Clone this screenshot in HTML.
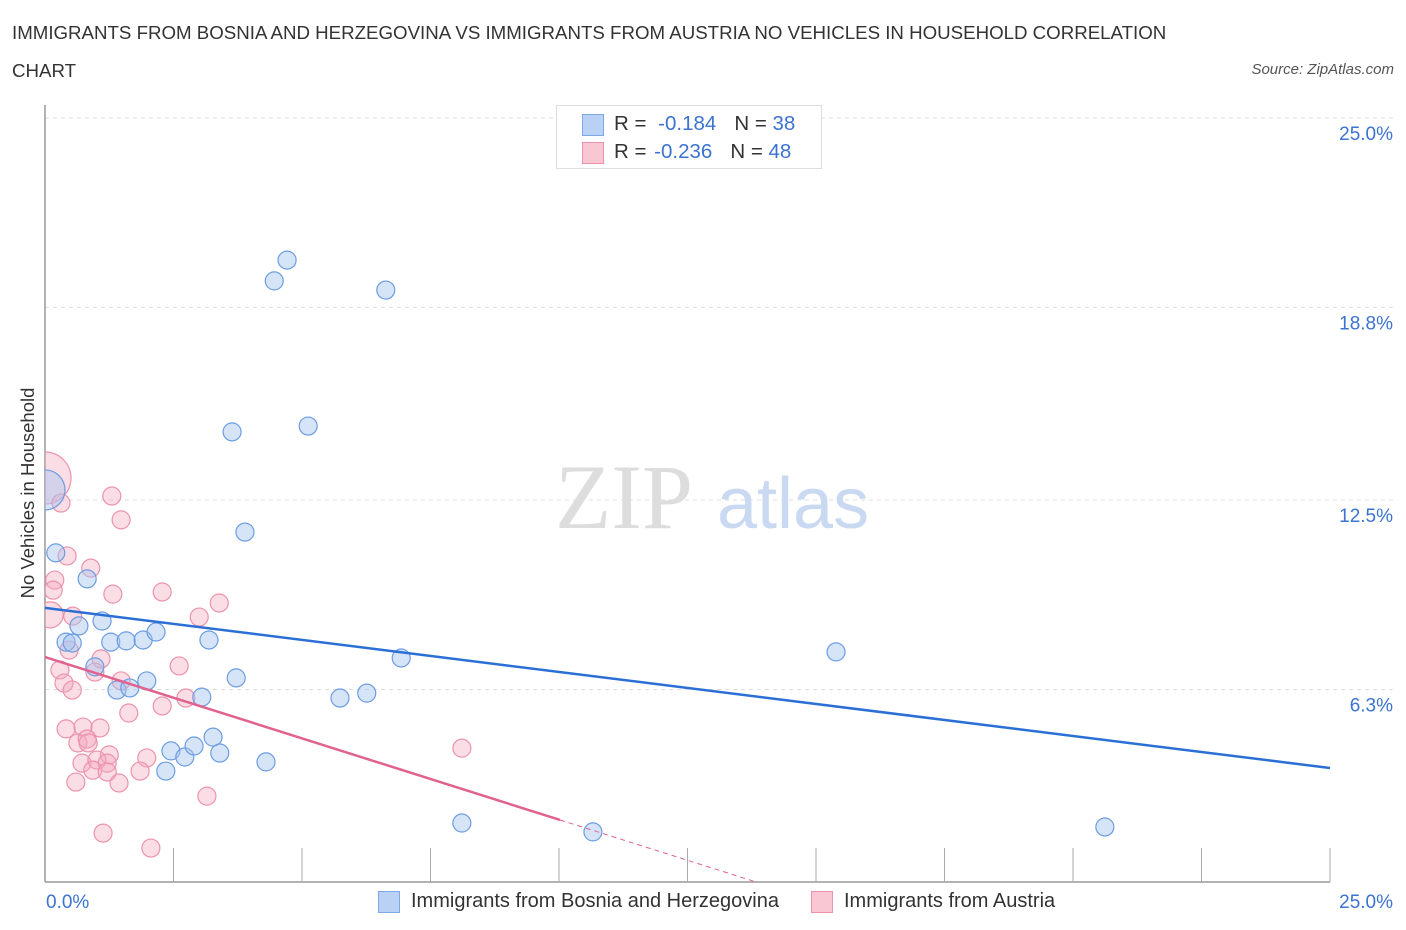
<!DOCTYPE html>
<html><head><meta charset="utf-8">
<style>
body{margin:0;background:#fff;font-family:"Liberation Sans",sans-serif;}
#wrap{position:relative;width:1406px;height:930px;overflow:hidden;}
.t{position:absolute;white-space:nowrap;}
</style></head><body>
<div id="wrap">
<div class="t" style="left:12px;top:14px;font-size:18.7px;color:#333;line-height:38px;">IMMIGRANTS FROM BOSNIA AND HERZEGOVINA VS IMMIGRANTS FROM AUSTRIA NO VEHICLES IN HOUSEHOLD CORRELATION<br>CHART</div>
<div class="t" style="right:12px;top:61px;font-size:15px;color:#555;font-style:italic;">Source: ZipAtlas.com</div>
<svg id="plot" width="1406" height="930" style="position:absolute;left:0;top:0"><defs><clipPath id="clp"><rect x="45" y="100" width="1360" height="782"/></clipPath></defs></svg>
</div>
<script>
const yTicks=[25.0,18.8,12.5,6.3];
const yTickLabels=["25.0%","18.8%","12.5%","6.3%"];
const xTickLabels=["0.0%","25.0%"];
const blueX=[4.71,4.46,6.63,3.64,5.12,3.89,0.21,0.82,1.11,0.66,0.41,0.53,1.28,1.58,1.91,2.16,3.19,0.97,1.40,1.65,1.98,3.05,3.72,5.74,6.26,6.93,15.39,2.45,2.72,2.90,3.27,3.40,4.30,2.35,8.11,10.66,20.62,0.0];
const blueY=[20.35,19.67,19.37,14.73,14.92,11.45,10.77,9.92,8.54,8.38,7.85,7.82,7.85,7.89,7.92,8.18,7.92,7.04,6.28,6.35,6.58,6.05,6.68,6.02,6.18,7.33,7.53,4.29,4.09,4.45,4.74,4.22,3.93,3.63,1.93,1.64,1.80,12.83];
const blueR=[9,9,9,9,9,9,9,9,9,9,9,9,9,9,9,9,9,9,9,9,9,9,9,9,9,9,9,9,9,9,9,9,9,9,9,9,9,20];
const pinkX=[0,1.30,0.31,1.48,0.43,0.89,0.19,0.16,1.32,2.28,3.39,0.10,0.54,3.00,0.47,1.09,0.29,0.97,2.61,1.48,0.37,0.53,2.74,2.28,1.63,0.41,0.74,1.07,0.64,0.82,0.84,1.98,1.25,0.72,1.01,1.21,0.93,1.85,0.60,1.44,3.15,1.13,2.06,8.11,1.21];
const pinkY=[13.22,12.63,12.40,11.85,10.67,10.27,9.88,9.55,9.42,9.49,9.13,8.74,8.70,8.67,7.59,7.30,6.94,6.87,7.07,6.58,6.51,6.28,6.02,5.76,5.53,5.01,5.07,5.04,4.55,4.68,4.55,4.06,4.16,3.89,3.99,3.89,3.66,3.63,3.27,3.24,2.81,1.60,1.11,4.38,3.60];
const pinkR=[26,9,9,9,9,9,9,9,9,9,9,13,9,9,9,9,9,9,9,9,9,9,9,9,9,9,9,9,9,9,9,9,9,9,9,9,9,9,9,9,9,9,9,9,9];
const blueTrend=[8.97,3.73];
const pinkTrend=[7.36,0];
const pinkSolidEnd=10.02;

const X=v=>45+v*51.4, Y=v=>882-v*30.56;
const svg=document.getElementById('plot'), NS='http://www.w3.org/2000/svg';
function mk(tag,attrs,parent){const e=document.createElementNS(NS,tag);for(const k in attrs)e.setAttribute(k,attrs[k]);(parent||svg).appendChild(e);return e;}
yTicks.forEach((v,i)=>{
  const g=mk('line',{x1:45,x2:1395,y1:Y(v),y2:Y(v),stroke:'#ddd','stroke-dasharray':'4,4'});
  
  
  const t=mk('text',{x:1393,y:Y(v)+22,'text-anchor':'end','font-size':19,fill:'#3b73d0','font-family':'Liberation Sans'});
  t.textContent=yTickLabels[i];
  
  
});
const ax=mk('line',{x1:45,x2:45,y1:105,y2:882,stroke:'#999','stroke-width':1.5});


const bx=mk('line',{x1:45,x2:1330,y1:882,y2:882,stroke:'#999','stroke-width':1.5});


for(let i=1;i<=10;i++){const tk=mk('line',{x1:X(i*2.5),x2:X(i*2.5),y1:848,y2:882,stroke:'#aaa'});

}
[[0,'start',46],[25,'end',1393]].forEach((d,i)=>{const t=mk('text',{x:d[2],y:908,'text-anchor':d[1],'font-size':19,fill:'#3b73d0','font-family':'Liberation Sans'});t.textContent=xTickLabels[i];

});
const wm=mk('text',{x:555,y:528,'font-size':92,fill:'#ddd','font-family':'Liberation Serif'});wm.textContent='ZIP';


const wm2=mk('text',{x:717,y:528,'font-size':72,fill:'#c9d9f1','font-family':'Liberation Sans'});wm2.textContent='atlas';


const G=mk('g',{'clip-path':'url(#clp)'});
pinkX.forEach((v,i)=>{const c=mk('circle',{cx:X(v),cy:Y(pinkY[i]),r:pinkR[i],fill:'rgba(244,170,192,0.4)',stroke:'#ec93ab','stroke-width':1.2},G);

});
blueX.forEach((v,i)=>{const c=mk('circle',{cx:X(v),cy:Y(blueY[i]),r:blueR[i],fill:'rgba(164,196,240,0.45)',stroke:'#6c9de2','stroke-width':1.2},G);

});
const bl=mk('line',{x1:X(0),y1:Y(blueTrend[0]),x2:X(25),y2:Y(blueTrend[1]),stroke:'#2b6fd6','stroke-width':2.5});


const zeroX=pinkTrend[0]/((pinkTrend[0]-2.03)/pinkSolidEnd);
const slope=(0-pinkTrend[0])/zeroX;
const pl=mk('line',{x1:X(0),y1:Y(pinkTrend[0]),x2:X(pinkSolidEnd),y2:Y(pinkTrend[0]+slope*pinkSolidEnd),stroke:'#e0628e','stroke-width':2.5});


const pd=mk('line',{x1:X(pinkSolidEnd),y1:Y(pinkTrend[0]+slope*pinkSolidEnd),x2:X(zeroX),y2:Y(0),stroke:'#e0628e','stroke-width':1,'stroke-dasharray':'5,4'});


</script>
<div class="t" style="left:28px;top:493px;font-size:18.5px;color:#333;transform:translate(-50%,-50%) rotate(-90deg);">No Vehicles in Household</div>
<div style="position:absolute;left:556px;top:105px;width:264px;height:62px;border:1px solid #ddd;background:#fff;font-size:20.5px;color:#333;">
  <div style="position:absolute;left:25px;top:8px;width:20px;height:20px;background:#b9d1f5;border:1px solid #7ea7e6;"></div>
  <div class="t" style="left:57px;top:6px;">R = <span style="color:#3b73d0;margin-left:6px">-0.184</span><span style="margin-left:18px">N = </span><span style="color:#3b73d0">38</span></div>
  <div style="position:absolute;left:25px;top:36px;width:20px;height:20px;background:#f9c6d4;border:1px solid #ec93ab;"></div>
  <div class="t" style="left:57px;top:34px;">R = <span style="color:#3b73d0;margin-left:2px">-0.236</span><span style="margin-left:18px">N = </span><span style="color:#3b73d0">48</span></div>
</div>
<div style="position:absolute;left:378px;top:890px;font-size:20px;color:#333;">
  <div style="position:absolute;left:0;top:1px;width:20px;height:20px;background:#b9d1f5;border:1px solid #7ea7e6;"></div>
  <div class="t" style="left:33px;top:0;">Immigrants from Bosnia and Herzegovina</div>
</div>
<div style="position:absolute;left:811px;top:890px;font-size:20px;color:#333;">
  <div style="position:absolute;left:0;top:1px;width:20px;height:20px;background:#f9c6d4;border:1px solid #ec93ab;"></div>
  <div class="t" style="left:33px;top:0;">Immigrants from Austria</div>
</div>
</body></html>
